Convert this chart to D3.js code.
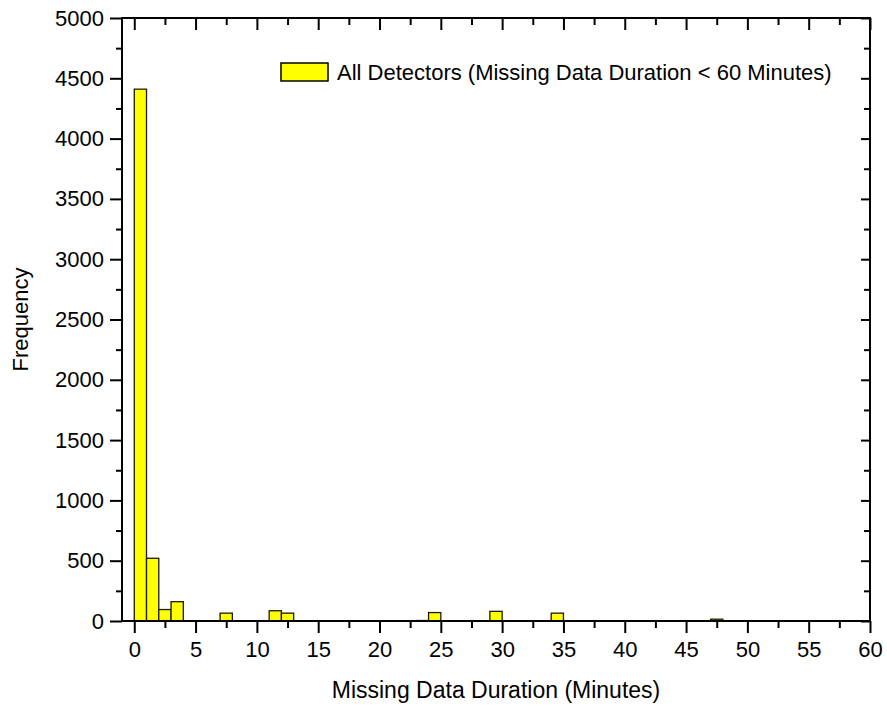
<!DOCTYPE html>
<html>
<head>
<meta charset="utf-8">
<script src="https://cdn.jsdelivr.net/npm/d3@7"></script>
<style>
	body { margin: 0; background: #fff; }
	text { font-family: "Liberation Sans", Arial, sans-serif; fill: #000; }
</style>
</head>
<body>
<div id="visual"></div>
<script>

///// DATA /////
// histogram bins of 1 minute, start of each bin
var binStarts = d3.range(0, 60);
var counts = [
	4410, 520, 95, 160, 0, 2, 0, 65, 0, 0,
	0, 85, 65, 2, 0, 0, 0, 0, 0, 0,
	0, 0, 0, 4, 70, 0, 0, 0, 0, 80,
	0, 0, 0, 0, 65, 0, 0, 0, 0, 0,
	0, 0, 0, 0, 0, 0, 0, 15, 0, 0,
	0, 0, 0, 0, 0, 0, 0, 0, 0, 0
];
var xTicks = [0, 5, 10, 15, 20, 25, 30, 35, 40, 45, 50, 55, 60];
var yTicks = [0, 500, 1000, 1500, 2000, 2500, 3000, 3500, 4000, 4500, 5000];
var seriesName = "All Detectors (Missing Data Duration < 60 Minutes)";
var xTitle = "Missing Data Duration (Minutes)";
var yTitle = "Frequency";

///// DIMENSIONS /////
var W = 887, H = 713;
var plot = { left: 122, right: 870, top: 18, bottom: 621 };

var xScale = d3.scaleLinear()
	.domain([-1, 60])
	.range([plot.left, plot.right]);

var yScale = d3.scaleLinear()
	.domain([0, 5000])
	.range([plot.bottom, plot.top]);

var svg = d3.select('#visual')
	.append('svg')
	.attr('width', W)
	.attr('height', H)
	.style('background', '#fff');

///// BARS /////
var data = binStarts.map(function(b, i) { return { start: b, count: counts[i] }; })
	.filter(function(d) { return d.count > 0; });

svg.append('g').selectAll('rect')
	.data(data).enter().append('rect')
	.attr('x', function(d) { return xScale(d.start); })
	.attr('y', function(d) { return yScale(d.count); })
	.attr('width', function(d) { return xScale(d.start + 1) - xScale(d.start); })
	.attr('height', function(d) { return yScale(0) - yScale(d.count); })
	.style('fill', '#ffff00')
	.style('stroke', '#1a1a00')
	.style('stroke-width', 1.3);

///// AXES /////
var xMinor = d3.range(2.5, 60, 5);
var yMinor = d3.range(250, 5000, 500);

function styleAxis(g) {
	g.select('.domain').remove();
	g.selectAll('line').style('stroke', '#000').style('stroke-width', 2);
	g.selectAll('text').style('font-size', '22px');
}

// bottom (outward ticks, labels)
svg.append('g')
	.attr('transform', `translate(0,${plot.bottom})`)
	.call(d3.axisBottom(xScale).tickValues(xTicks).tickSize(12).tickPadding(8).tickFormat(d3.format('d')))
	.call(styleAxis);
svg.append('g')
	.attr('transform', `translate(0,${plot.bottom})`)
	.call(d3.axisBottom(xScale).tickValues(xMinor).tickSize(7).tickFormat(''))
	.call(styleAxis);

// top (inward ticks)
svg.append('g')
	.attr('transform', `translate(0,${plot.top})`)
	.call(d3.axisBottom(xScale).tickValues(xTicks).tickSize(12).tickFormat(''))
	.call(styleAxis);
svg.append('g')
	.attr('transform', `translate(0,${plot.top})`)
	.call(d3.axisBottom(xScale).tickValues(xMinor).tickSize(7).tickFormat(''))
	.call(styleAxis);

// left (outward ticks, labels)
svg.append('g')
	.attr('transform', `translate(${plot.left},0)`)
	.call(d3.axisLeft(yScale).tickValues(yTicks).tickSize(12).tickPadding(6).tickFormat(d3.format('d')))
	.call(styleAxis);
svg.append('g')
	.attr('transform', `translate(${plot.left},0)`)
	.call(d3.axisLeft(yScale).tickValues(yMinor).tickSize(6).tickFormat(''))
	.call(styleAxis);

// right (inward ticks)
svg.append('g')
	.attr('transform', `translate(${plot.right},0)`)
	.call(d3.axisLeft(yScale).tickValues(yTicks).tickSize(9).tickFormat(''))
	.call(styleAxis);
svg.append('g')
	.attr('transform', `translate(${plot.right},0)`)
	.call(d3.axisLeft(yScale).tickValues(yMinor).tickSize(6).tickFormat(''))
	.call(styleAxis);

// frame
svg.append('rect')
	.attr('x', plot.left).attr('y', plot.top)
	.attr('width', plot.right - plot.left)
	.attr('height', plot.bottom - plot.top)
	.style('fill', 'none')
	.style('stroke', '#000')
	.style('stroke-width', 2);

///// LEGEND /////
var legend = svg.append('g').attr('transform', 'translate(281,63)');
legend.append('rect')
	.attr('x', 0).attr('y', 0)
	.attr('width', 47).attr('height', 18)
	.style('fill', '#ffff00')
	.style('stroke', '#000')
	.style('stroke-width', 1.5);
legend.append('text')
	.attr('x', 56).attr('y', 17)
	.style('font-size', '22px')
	.text(seriesName);

///// TITLES /////
svg.append('text')
	.attr('x', (plot.left + plot.right) / 2)
	.attr('y', 698)
	.style('text-anchor', 'middle')
	.style('font-size', '23px')
	.text(xTitle);

svg.append('text')
	.attr('transform', `translate(28,${(plot.top + plot.bottom) / 2}) rotate(-90)`)
	.style('text-anchor', 'middle')
	.style('font-size', '22px')
	.text(yTitle);

</script>
</body>
</html>
